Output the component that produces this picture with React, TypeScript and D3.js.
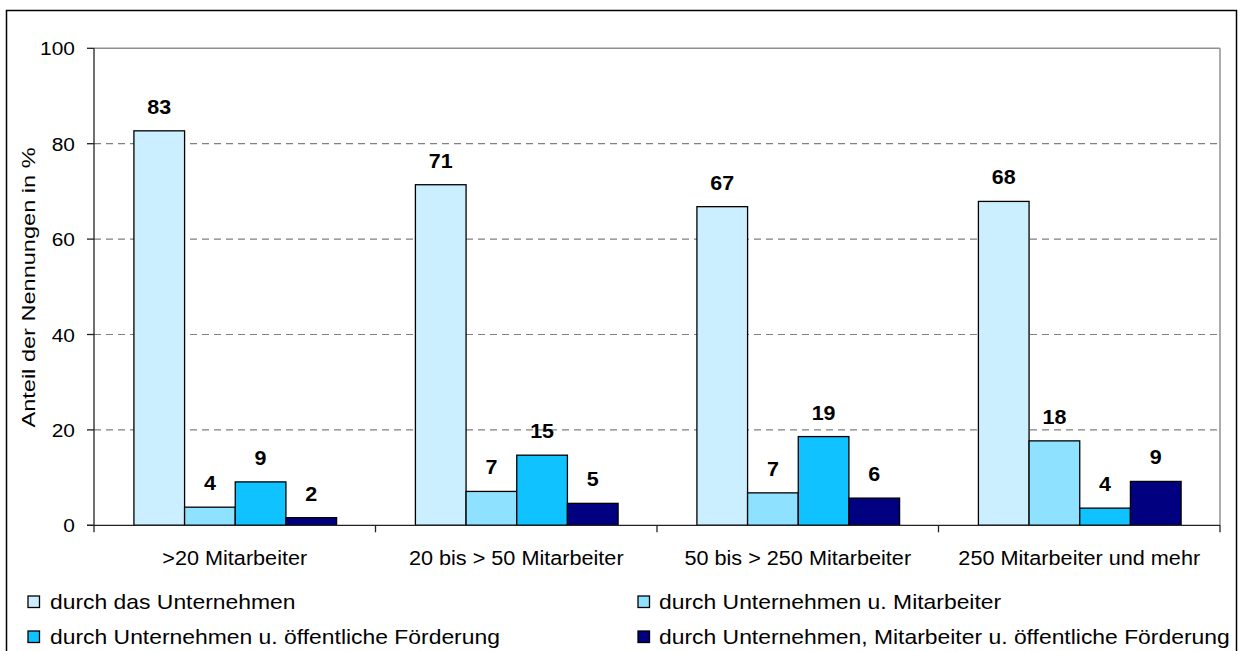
import React from "react";
import * as d3 from "d3";

const categories = [">20 Mitarbeiter", "20 bis > 50 Mitarbeiter", "50 bis > 250 Mitarbeiter", "250 Mitarbeiter und mehr"];
const seriesNames = [
  "durch das Unternehmen",
  "durch Unternehmen u. Mitarbeiter",
  "durch Unternehmen u. öffentliche Förderung",
  "durch Unternehmen, Mitarbeiter u. öffentliche Förderung",
];
const sUnternehmen = [82.7, 71.4, 66.8, 67.9];
const sMitarbeiter = [3.8, 7.1, 6.8, 17.7];
const sFoerderung = [9.1, 14.7, 18.6, 3.6];
const sAlle = [1.6, 4.6, 5.7, 9.2];
const seriesValues = [sUnternehmen, sMitarbeiter, sFoerderung, sAlle];
const colors = ["#CCEFFF", "#8EE1FF", "#10C2FF", "#000080"];
const yTicks = [0, 20, 40, 60, 80, 100];

const FONT = "'Liberation Sans', Arial, sans-serif";

function T({ x, y, anchor = "start", size = 19.5, weight = "normal", sx = 1.1, rotate = 0, children }: any) {
  return (
    <text
      transform={`translate(${x},${y}) rotate(${rotate}) scale(${sx},1)`}
      textAnchor={anchor}
      fontSize={size}
      fontWeight={weight}
      fontFamily={FONT}
      fill="#000"
    >
      {children}
    </text>
  );
}

export default function App() {
  const W = 1242, H = 651;
  const left = 94, right = 1220, top = 48.3, bottom = 525.3;
  const y = d3.scaleLinear().domain([0, 100]).range([bottom, top]);
  const x0 = d3.scaleBand<string>().domain(categories).range([left, right]).padding(0);
  const bw = x0.bandwidth();
  const gap = bw * 0.14;
  const x1 = d3.scaleBand<string>().domain(seriesNames).range([gap + 0.5, bw - gap + 0.5]).padding(0);
  const fmt = d3.format(".0f");

  const legendPos = [
    { mx: 28, tx: 50, cy: 601.5 },
    { mx: 638, tx: 659, cy: 601.5 },
    { mx: 28, tx: 50, cy: 636.5 },
    { mx: 638, tx: 659, cy: 636.5 },
  ];

  return (
    <svg width={W} height={H} style={{ position: "absolute", left: 0, top: 0, background: "#fff" }}>
      <defs>
        <clipPath id="outer">
          <rect x={6.5} y={10.5} width={1230} height={660} />
        </clipPath>
      </defs>
      <rect x={0} y={0} width={W} height={H} fill="#fff" />

      {/* gridlines */}
      {yTicks.filter((t) => t > 0 && t < 100).map((t) => (
        <line key={t} x1={left} x2={right} y1={y(t)} y2={y(t)} stroke="#808080" strokeWidth={1.2} strokeDasharray="7,5" />
      ))}
      {/* plot border top/right */}
      <line x1={left} x2={right} y1={y(100)} y2={y(100)} stroke="#909090" strokeWidth={1.5} />
      <line x1={right} x2={right} y1={y(100)} y2={bottom} stroke="#909090" strokeWidth={1.5} />

      {/* bars */}
      {categories.map((c, ci) => (
        <g key={c}>
          {seriesNames.map((s, si) => {
            const v = seriesValues[si][ci];
            const bx = (x0(c) as number) + (x1(s) as number);
            const w = x1.bandwidth();
            return (
              <g key={s}>
                <rect x={bx} y={y(v)} width={w} height={bottom - y(v)} fill={colors[si]} stroke="#000" strokeWidth={1.3} />
                <T x={bx + w / 2} y={y(v) - 17} anchor="middle" weight="bold" size={19.5} sx={1.1}>
                  {fmt(v)}
                </T>
              </g>
            );
          })}
        </g>
      ))}

      {/* y axis */}
      <line x1={left} x2={left} y1={top} y2={bottom} stroke="#222" strokeWidth={1.3} />
      {yTicks.map((t) => (
        <g key={t}>
          <line x1={left - 7} x2={left} y1={y(t)} y2={y(t)} stroke="#222" strokeWidth={1.3} />
          <T x={75} y={y(t) + 7} anchor="end" size={19} sx={1.1}>
            {t}
          </T>
        </g>
      ))}
      <T x={35} y={287.5} anchor="middle" size={19} sx={1.24} rotate={-90}>
        Anteil der Nennungen in %
      </T>

      {/* x axis */}
      <line x1={left - 7} x2={right} y1={bottom} y2={bottom} stroke="#222" strokeWidth={1.3} />
      {[...categories.map((c) => x0(c) as number), right].map((tx, i) => (
        <line key={i} x1={tx} x2={tx} y1={bottom} y2={bottom + 7} stroke="#222" strokeWidth={1.3} />
      ))}
      {categories.map((c) => (
        <T key={c} x={(x0(c) as number) + bw / 2} y={565} anchor="middle" size={19.5} sx={1.11}>
          {c}
        </T>
      ))}

      {/* legend */}
      <g clipPath="url(#outer)">
        {seriesNames.map((s, i) => {
          const p = legendPos[i];
          return (
            <g key={s}>
              <rect x={p.mx} y={p.cy - 5.5} width={11.5} height={11.5} fill={colors[i]} stroke="#000" strokeWidth={1.3} />
              <T x={p.tx} y={p.cy + 7} size={20} sx={1.145}>
                {s}
              </T>
            </g>
          );
        })}
      </g>

      {/* outer border */}
      <rect x={6.5} y={10.5} width={1230} height={660} fill="none" stroke="#000" strokeWidth={1.5} />
    </svg>
  );
}
